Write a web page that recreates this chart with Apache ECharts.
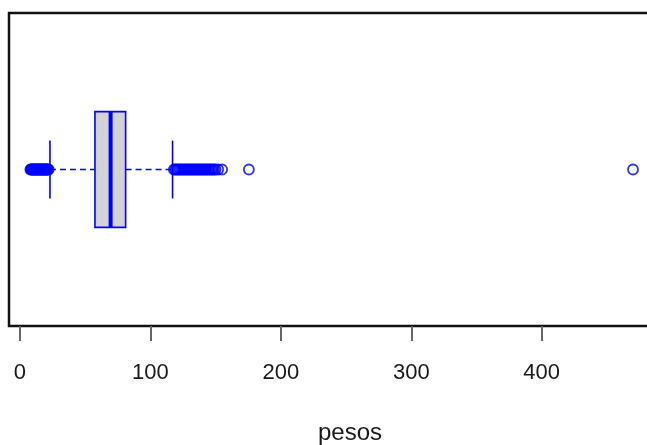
<!DOCTYPE html>
<html>
<head>
<meta charset="utf-8">
<script src="https://cdn.jsdelivr.net/npm/echarts@6/dist/echarts.min.js"></script>
<style>
  html, body { margin: 0; padding: 0; background: #fff; overflow: hidden; }
  /* canvas runs a little past the window so the plot frame's right edge falls outside it */
  #chart { width: 667px; height: 445px; }
</style>
</head>
<body>
<div id="chart"></div>
<script>
// Horizontal boxplot of weights ("pesos")
const categories = ['pesos'];
// [lower whisker, Q1, median, Q3, upper whisker]
const boxStats = [[23, 57.5, 69.5, 81, 117]];
const lowOutliers = [8, 8.5, 9, 9.5, 10, 10.5, 11, 11.5, 12, 12.5, 13, 13.5, 14, 14.5, 15, 15.5, 16, 16.5, 17, 17.5, 18, 18.5, 19, 19.5, 20, 20.5, 21, 21.5, 22];
const highOutliers = [118, 119, 120, 121, 122, 123, 124, 125, 126, 127, 128, 129, 130, 131, 132, 133, 134, 135, 136, 137, 138, 139, 140, 141, 142, 143, 144, 145, 146, 147, 148, 149, 150, 152, 155, 175.5, 470];
const tickValues = [0, 100, 200, 300, 400];
const axisTitle = 'pesos';

const blue = '#0000ff';

const chart = echarts.init(document.getElementById('chart'), null, { renderer: 'canvas' });

const boxData = boxStats.map((s, i) => [i].concat(s));
const outlierData = lowOutliers.concat(highOutliers).map(v => [v, 0]);

function renderBox(params, api) {
  const cat = api.value(0);
  const lo = api.value(1), q1 = api.value(2), med = api.value(3), q3 = api.value(4), hi = api.value(5);
  const band = api.size([0, 1])[1];
  const half = band * 0.185;
  const capHalf = half * 0.5;
  const pLo = api.coord([lo, cat]);
  const pQ1 = api.coord([q1, cat]);
  const pMed = api.coord([med, cat]);
  const pQ3 = api.coord([q3, cat]);
  const pHi = api.coord([hi, cat]);
  const y = pQ1[1];
  const dashed = { stroke: blue, lineWidth: 1.5, lineDash: [6, 4] };
  const solid = { stroke: blue, lineWidth: 1.6 };
  return {
    type: 'group',
    children: [
      { type: 'line', shape: { x1: pLo[0], y1: y, x2: pQ1[0], y2: y }, style: dashed },
      { type: 'line', shape: { x1: pQ3[0], y1: y, x2: pHi[0], y2: y }, style: dashed },
      { type: 'line', shape: { x1: pLo[0], y1: y - capHalf, x2: pLo[0], y2: y + capHalf }, style: solid },
      { type: 'line', shape: { x1: pHi[0], y1: y - capHalf, x2: pHi[0], y2: y + capHalf }, style: solid },
      { type: 'rect', shape: { x: pQ1[0], y: y - half, width: pQ3[0] - pQ1[0], height: half * 2 },
        style: { fill: '#d3d3d3', stroke: blue, lineWidth: 1.6 } },
      { type: 'line', shape: { x1: pMed[0], y1: y - half, x2: pMed[0], y2: y + half },
        style: { stroke: blue, lineWidth: 4 } }
    ]
  };
}

chart.setOption({
  animation: false,
  backgroundColor: '#ffffff',
  title: {
    text: axisTitle,
    left: 345,
    top: 416,
    textAlign: 'center',
    textStyle: { fontFamily: 'Liberation Sans', fontSize: 24, fontWeight: 'normal', color: '#1a1a1a' }
  },
  grid: {
    left: 9, top: 13, width: 648, height: 313,
    show: true, borderColor: '#111', borderWidth: 2.5, backgroundColor: 'transparent'
  },
  xAxis: {
    type: 'value',
    min: -8.4,
    max: 488.4,
    splitLine: { show: false },
    axisLine: { show: false },
    axisTick: { show: true, length: 15, customValues: tickValues, lineStyle: { color: '#666', width: 2 } },
    axisLabel: {
      customValues: tickValues,
      margin: 36,
      fontFamily: 'Liberation Sans',
      fontSize: 22,
      color: '#1a1a1a'
    }
  },
  yAxis: {
    type: 'category',
    data: categories,
    show: false
  },
  series: [
    {
      type: 'custom',
      renderItem: renderBox,
      data: boxData,
      encode: { x: [1, 2, 3, 4, 5], y: 0 },
      z: 2
    },
    {
      type: 'scatter',
      data: outlierData,
      symbol: 'circle',
      symbolSize: 10,
      itemStyle: { color: 'transparent', borderColor: blue, borderWidth: 1.8 },
      z: 3
    }
  ]
});
</script>
</body>
</html>
